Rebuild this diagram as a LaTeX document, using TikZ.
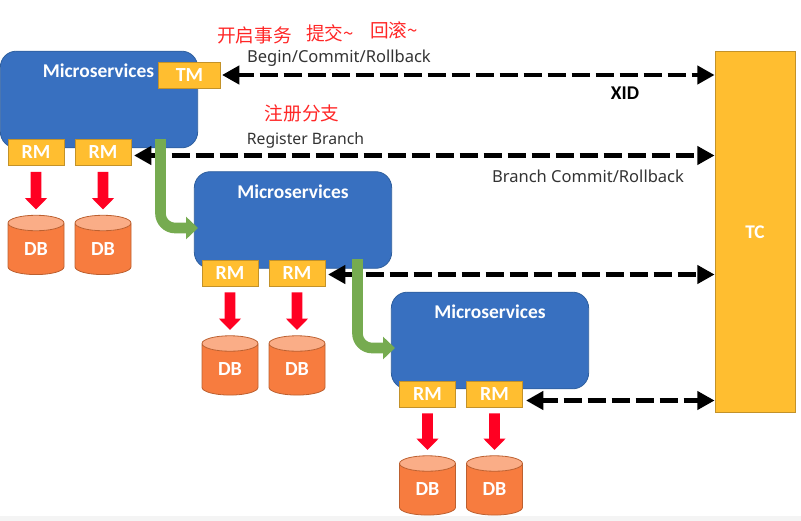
\documentclass[tikz,border=0pt]{standalone}
\usepackage{fontspec}
\setmainfont{Carlito}
\newfontfamily\labelfont{Noto Sans}
\newfontfamily\cjk{Noto Sans CJK SC}
\usetikzlibrary{arrows.meta,shapes.geometric}
\definecolor{msblue}{HTML}{3870C0}
\definecolor{msline}{HTML}{2F5F9E}
\definecolor{rmyellow}{HTML}{FFBE30}
\definecolor{rmline}{HTML}{C39229}
\definecolor{dborange}{HTML}{F77C3F}
\definecolor{dbtop}{HTML}{FAAD87}
\definecolor{dbline}{HTML}{BC6030}
\definecolor{gogreen}{HTML}{76AB50}
\definecolor{dbred}{HTML}{FF0022}
\definecolor{striplight}{HTML}{F4F4F4}
\begin{document}
\begin{tikzpicture}[x=0.75pt,y=-0.75pt]
\tikzstyle{msbox} = [draw=msline, fill=msblue, rectangle, rounded corners=12pt, line width=0.6pt, minimum width=148pt, minimum height=72.5pt, inner sep=0pt]
\tikzstyle{rmbox} = [draw=rmline, fill=rmyellow, rectangle, line width=0.6pt, minimum width=42pt, minimum height=19.5pt, inner sep=0pt, text=white, font=\bfseries\fontsize{15}{15}\selectfont]
\tikzstyle{dbnode} = [draw=dbline, cylinder, shape border rotate=90, aspect=0.65, cylinder uses custom fill, cylinder body fill=dborange, cylinder end fill=dbtop, line width=0.6pt, minimum width=42pt, minimum height=44.5pt, inner sep=0pt, text=white, font=\bfseries\fontsize{15}{15}\selectfont]
\tikzstyle{mstext} = [text=white, font=\bfseries\fontsize{14.6}{15}\selectfont, inner sep=0pt]
\tikzstyle{grey} = [text=black!80, font=\labelfont\fontsize{12.4}{13}\selectfont, inner sep=0pt]
\tikzstyle{redcjk} = [text=red!85!white, font=\cjk\fontsize{14}{15}\selectfont, inner sep=0pt]
\tikzstyle{bus} = [draw, line width=3.6pt, dash pattern=on 13.5pt off 4.5pt, dash phase=2pt, {Triangle[length=13pt,width=13.5pt]}-{Triangle[length=13pt,width=13.5pt]}]
\tikzstyle{save} = [draw=dbred, line width=8.2pt, -{Triangle[length=8.5pt,width=16pt]}]
\tikzstyle{next} = [draw=gogreen, line width=8pt, rounded corners=11pt, -{Triangle[length=9pt,width=16.5pt]}]
% page
\useasboundingbox (0,0) rectangle (801,521);
\fill[striplight] (0,516) rectangle (801,521);
% services
\node[msbox] (ms_0) at (99,99.5) {};
\node[msbox] (ms_1) at (293,220) {};
\node[msbox] (ms_2) at (490,340.5) {};
\node[draw=rmline, fill=rmyellow, line width=0.6pt, minimum width=60pt, minimum height=270.5pt, inner sep=0pt, text=white, font=\bfseries\fontsize{14.5}{15}\selectfont] (tc_0) at (755,232) {TC};
\node[mstext] (mt_0) at (98.5,71) {Microservices};
\node[mstext] (mt_1) at (293,192) {Microservices};
\node[mstext] (mt_2) at (490,312) {Microservices};
% TM and RM
\node[rmbox, minimum width=47pt] (tm_0) at (189.5,75) {TM};
\node[rmbox] (rm_0) at (36,152.5) {RM};
\node[rmbox] (rm_1) at (103,152.5) {RM};
\node[rmbox] (rm_2) at (230,273) {RM};
\node[rmbox] (rm_3) at (297,273) {RM};
\node[rmbox] (rm_4) at (427.5,394) {RM};
\node[rmbox] (rm_5) at (494.5,394) {RM};
% databases
\node[dbnode] (db_0) at (36,249) {DB};
\node[dbnode] (db_1) at (103,249) {DB};
\node[dbnode] (db_2) at (230,369.5) {DB};
\node[dbnode] (db_3) at (297,369.5) {DB};
\node[dbnode] (db_4) at (427.5,489.5) {DB};
\node[dbnode] (db_5) at (494.5,489.5) {DB};
% red arrows
\path[save, shorten <=4.5pt, shorten >=4pt] (rm_0.south) -- (db_0.north);
\path[save, shorten <=4.5pt, shorten >=4pt] (rm_1.south) -- (db_1.north);
\path[save, shorten <=4.5pt, shorten >=4pt] (rm_2.south) -- (db_2.north);
\path[save, shorten <=4.5pt, shorten >=4pt] (rm_3.south) -- (db_3.north);
\path[save, shorten <=4.5pt, shorten >=4pt] (rm_4.south) -- (db_4.north);
\path[save, shorten <=4.5pt, shorten >=4pt] (rm_5.south) -- (db_5.north);
% black arrows
\coordinate (a_0) at (222,75);
\coordinate (a_1) at (134,155.5);
\coordinate (a_2) at (328,274.5);
\coordinate (a_3) at (526,400.5);
\path[bus] (a_0) -- (tc_0.west |- a_0);
\path[bus] (a_1) -- (tc_0.west |- a_1);
\path[bus] (a_2) -- (tc_0.west |- a_2);
\path[bus] (a_3) -- (tc_0.west |- a_3);
% green arrows
\coordinate (g_0) at (160.5,139);
\coordinate (g_1) at (198,228);
\coordinate (g_2) at (357.5,259);
\coordinate (g_3) at (395,348);
\path[next] (g_0) |- (g_1);
\path[next] (g_2) |- (g_3);
% labels
\node[redcjk] (c_0) at (254.5,35) {开启事务};
\node[redcjk] (c_1) at (330,33) {提交\textasciitilde};
\node[redcjk] (c_2) at (394,30) {回滚\textasciitilde};
\node[redcjk] (c_3) at (302,113) {注册分支};
\node[grey] (l_0) at (339,58) {Begin/Commit/Rollback};
\node[grey, font=\labelfont\fontsize{11.8}{13}\selectfont] (l_1) at (305.5,140) {Register Branch};
\node[grey] (l_2) at (588,176) {Branch Commit/Rollback};
\node[mstext, text=black] (l_3) at (625,93) {XID};
\end{tikzpicture}
\end{document}
